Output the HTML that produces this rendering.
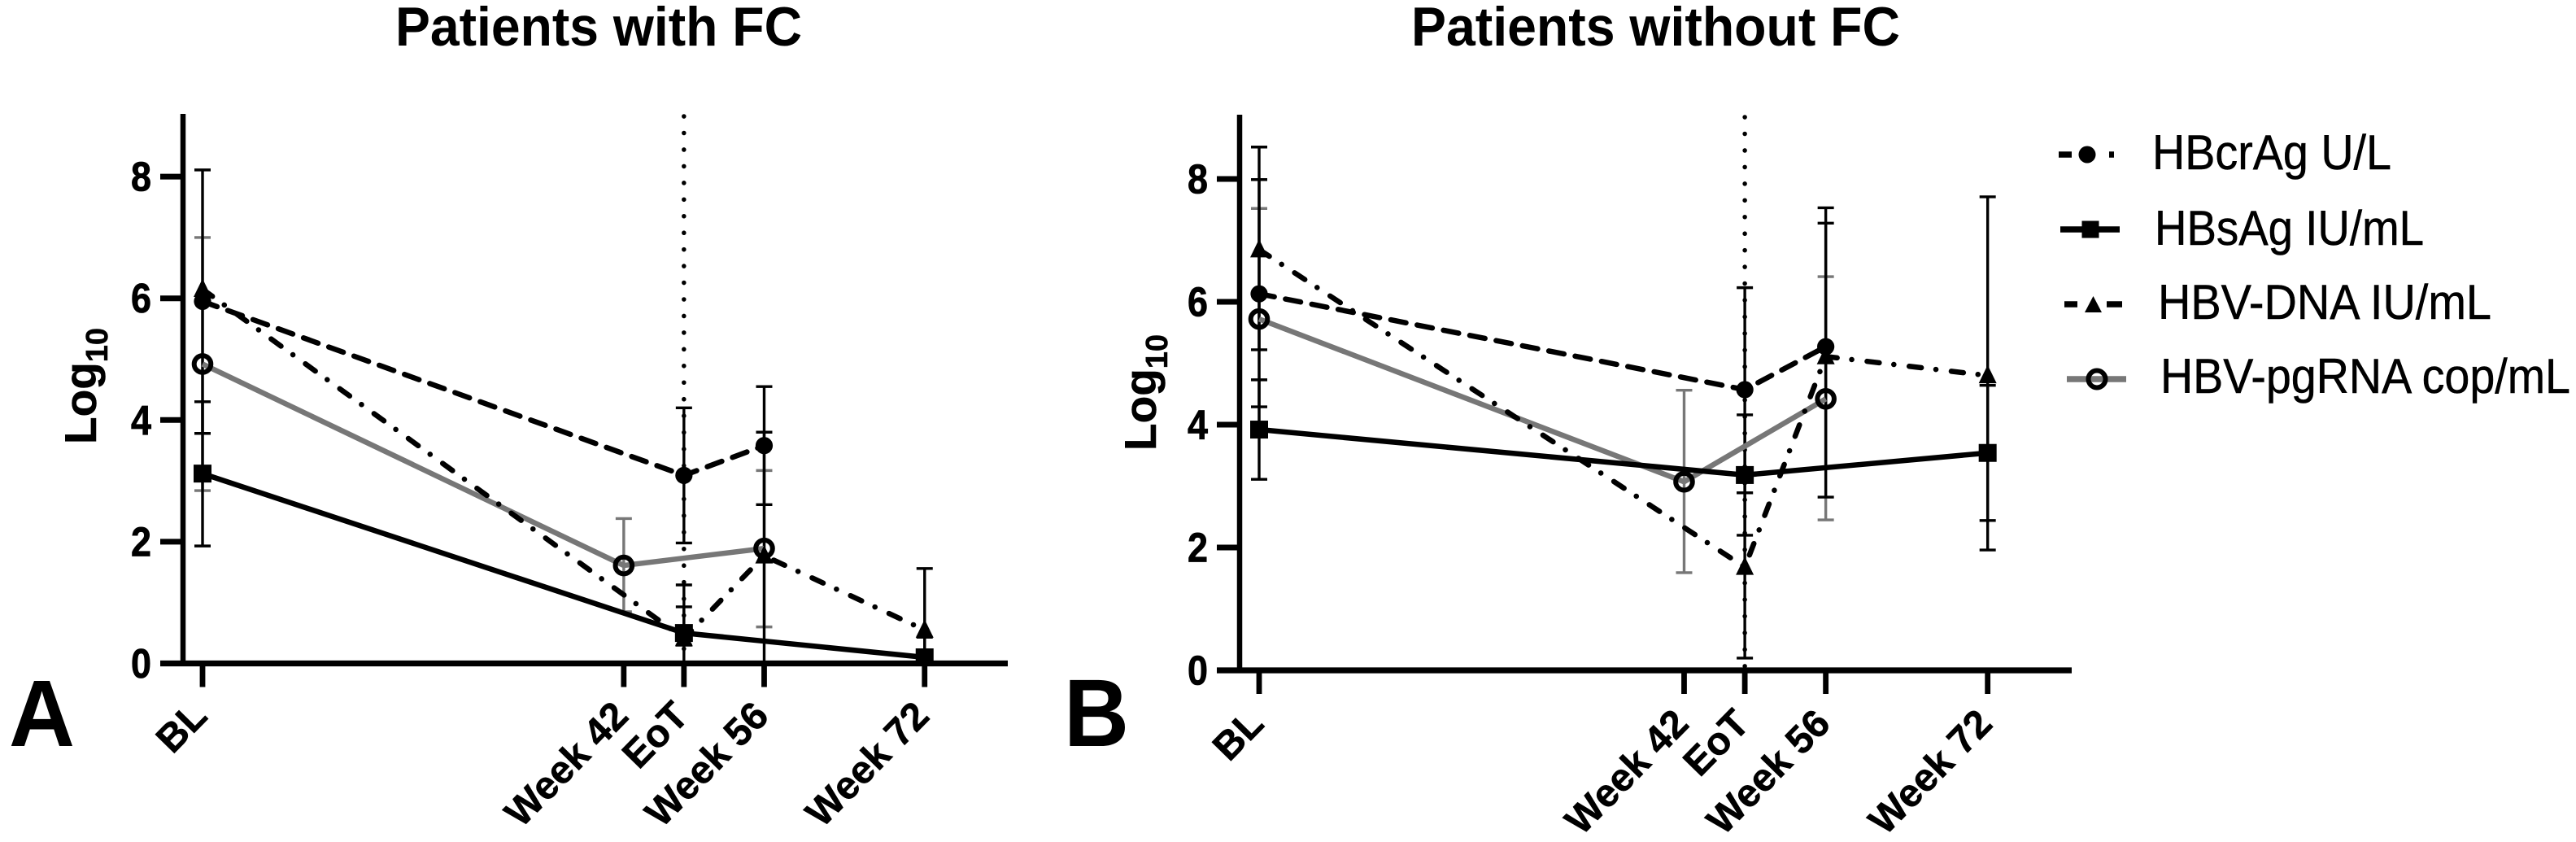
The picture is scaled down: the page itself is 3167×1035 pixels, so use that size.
<!DOCTYPE html>
<html>
<head>
<meta charset="utf-8">
<title>Patients with and without FC</title>
<style>
html,body{margin:0;padding:0;background:#fff;width:3167px;height:1035px;overflow:hidden}
svg{display:block}
text{font-family:"Liberation Sans",sans-serif;fill:#000}
.b{font-weight:bold}
.l{stroke:#000;stroke-width:0.5}
</style>
</head>
<body>
<svg id="figure" xmlns="http://www.w3.org/2000/svg" width="3167" height="1035" viewBox="0 0 3167 1035">
  <rect width="3167" height="1035" fill="#fff"/>
  <g id="panel-a"></g>
  <g id="panel-b"></g>

  <text class="b" x="486" y="56" font-size="68" textLength="500" lengthAdjust="spacingAndGlyphs">Patients with FC</text>
  <text class="b" x="1735" y="56" font-size="68" textLength="601" lengthAdjust="spacingAndGlyphs">Patients without FC</text>
  <text class="b" x="11" y="917" font-size="116" textLength="81" lengthAdjust="spacingAndGlyphs">A</text>
  <text class="b" x="1308" y="917" font-size="118" textLength="80" lengthAdjust="spacingAndGlyphs">B</text>

  <g transform="translate(118,546) rotate(-90)">
    <text class="b l" x="0" y="0" font-size="55">Log<tspan dy="14" font-size="38">10</tspan></text>
  </g>
  <g transform="translate(1421,554) rotate(-90)">
    <text class="b l" x="0" y="0" font-size="55">Log<tspan dy="14" font-size="38">10</tspan></text>
  </g>

  <g>
    <g>
      <line x1="2531" y1="190" x2="2604" y2="190" stroke="#000" stroke-width="7.5" stroke-dasharray="16 46 6 10"/>
      <circle cx="2566" cy="190" r="10.5" fill="#000"/>
      <text class="l" x="2646" y="208" font-size="60" textLength="294" lengthAdjust="spacingAndGlyphs">HBcrAg U/L</text>
    </g>
    <g>
      <line x1="2533" y1="282" x2="2606" y2="282" stroke="#000" stroke-width="7.5"/>
      <rect x="2559.5" y="271.5" width="21" height="21" fill="#000"/>
      <text class="l" x="2649" y="301" font-size="60" textLength="331" lengthAdjust="spacingAndGlyphs">HBsAg IU/mL</text>
    </g>
    <g>
      <line x1="2538" y1="374" x2="2609" y2="374" stroke="#000" stroke-width="7.5" stroke-dasharray="16 36 19 10"/>
      <polygon points="2573.5,364 2584,384 2563,384" fill="#000"/>
      <text class="l" x="2653" y="392" font-size="60" textLength="410" lengthAdjust="spacingAndGlyphs">HBV-DNA IU/mL</text>
    </g>
    <g>
      <line x1="2541" y1="466" x2="2614" y2="466" stroke="#777" stroke-width="7.5"/>
      <circle cx="2578" cy="466" r="10.5" fill="none" stroke="#000" stroke-width="6"/>
      <text class="l" x="2656" y="483" font-size="60" textLength="504" lengthAdjust="spacingAndGlyphs">HBV-pgRNA cop/mL</text>
    </g>
  </g>
</svg>

<script>
/* ---- shared categories and ticks ---- */
const weeks = [0, 42, 48, 56, 72];
const xLabels = ['BL', 'Week 42', 'EoT', 'Week 56', 'Week 72'];
const yTicks = [0, 2, 4, 6, 8];
const eotWeek = 48;

/* ---- Panel A: patients with FC ---- */
const hbcragA     = [5.95, null, 3.09, 3.58, null];
const hbcragAHigh = [8.11, null, 4.20, 4.55, null];
const hbcragALow  = [3.78, null, 1.98, 2.61, null];

const hbsagA      = [3.12, null, 0.50, null, 0.10];
const hbsagAHigh  = [4.30, null, 0.93, null, 0.43];
const hbsagALow   = [1.93, null, 0.30, null, 0.00];

const dnaA        = [6.15, null, 0.41, 1.77, 0.55];
const dnaAHigh    = [null, null, 1.29, 3.80, 1.56];
const dnaALow     = [null, null, 0.00, 0.00, 0.10];

const pgrnaA      = [4.92, 1.61, null, 1.89, null];
const pgrnaAHigh  = [7.00, 2.38, null, 3.17, null];
const pgrnaALow   = [2.84, 0.85, null, 0.60, null];

/* ---- Panel B: patients without FC ---- */
const hbcragB     = [6.13, null, 4.57, 5.27, null];
const hbcragBHigh = [7.99, null, 6.23, 7.28, null];
const hbcragBLow  = [4.29, null, 2.89, 3.30, null];

const hbsagB      = [3.92, null, 3.18, null, 3.54];
const hbsagBHigh  = [4.73, null, 4.16, null, 4.64];
const hbsagBLow   = [3.11, null, 2.20, null, 2.44];

const dnaB        = [6.85, null, 1.68, 5.11, 4.80];
const dnaBHigh    = [8.52, null, 2.89, 7.53, 7.71];
const dnaBLow     = [5.22, null, 0.20, 2.82, 1.96];

const pgrnaB      = [5.72, 3.07, null, 4.42, null];
const pgrnaBHigh  = [7.52, 4.56, null, 6.41, null];
const pgrnaBLow   = [3.90, 1.59, null, 2.45, null];

const NS = 'http://www.w3.org/2000/svg';

function make(parent, tag, attrs) {
  const el = document.createElementNS(NS, tag);
  for (const k in attrs) el.setAttribute(k, attrs[k]);
  parent.appendChild(el);
  return el;
}

function drawPanel(root, geo, series) {
  const x = w => geo.x0 + (w - weeks[0]) * geo.pxPerWeek;
  const y = v => geo.y0 - v * geo.pxPerUnit;

  /* EoT dotted reference line */
  const dotted = make(root, 'line', {
    x1: x(eotWeek), y1: geo.axisTop + 3, x2: x(eotWeek), y2: geo.y0 + 4,
    stroke: '#000', 'stroke-width': 5.5, 'stroke-linecap': 'round', 'stroke-dasharray': '0.1 20.35'
  });
  
  

  /* error bars, gray first so black sits on top */
  const ordered = series.slice().sort((a, b) => (a.color === '#000' ? 1 : 0) - (b.color === '#000' ? 1 : 0));
  ordered.forEach(s => {
    const g = make(root, 'g', {});
    
    
    weeks.forEach((w, i) => {
      const hi = s.high[i], lo = s.low[i];
      if (hi === null || lo === null) return;
      const px = x(w);
      const stem = make(g, 'line', { x1: px, x2: px, y1: y(hi), y2: y(lo), stroke: s.color, 'stroke-width': 3.4 });
      
      
      [hi, lo].forEach(v => {
        const cap = make(g, 'line', { x1: px - 10, x2: px + 10, y1: y(v), y2: y(v), stroke: s.color, 'stroke-width': 3.4 });
        
        
      });
    });
  });

  /* connecting lines */
  series.forEach(s => {
    const pts = [];
    weeks.forEach((w, i) => { if (s.values[i] !== null) pts.push(x(w) + ',' + y(s.values[i])); });
    const attrs = { points: pts.join(' '), fill: 'none', stroke: s.lineColor, 'stroke-width': 6.5, 'stroke-linejoin': 'round' };
    if (s.dash) { attrs['stroke-dasharray'] = s.dash; attrs['stroke-linecap'] = 'round'; }
    const line = make(root, 'polyline', attrs);
    
    
  });

  /* axes */
  const yAxis = make(root, 'line', { x1: geo.x0Axis, x2: geo.x0Axis, y1: geo.axisTop, y2: geo.y0 + 3, stroke: '#000', 'stroke-width': 6.5 });
  
  
  const xAxis = make(root, 'line', { x1: geo.x0Axis - 28, x2: geo.axisRight, y1: geo.y0, y2: geo.y0, stroke: '#000', 'stroke-width': 7.3 });
  
  

  yTicks.forEach(t => {
    if (t !== 0) {
      const tick = make(root, 'line', { x1: geo.x0Axis - 28, x2: geo.x0Axis, y1: y(t), y2: y(t), stroke: '#000', 'stroke-width': 7 });
      
      
    }
    const label = make(root, 'text', {
      x: geo.x0Axis - 39, y: y(t) + 17.5, 'text-anchor': 'end', 'font-size': 51, 'font-weight': 'bold',
      stroke: '#000', 'stroke-width': 0.8, textLength: 25, lengthAdjust: 'spacingAndGlyphs'
    });
    label.textContent = String(t);
    
    
  });

  weeks.forEach((w, i) => {
    const tick = make(root, 'line', { x1: x(w), x2: x(w), y1: geo.y0, y2: geo.y0 + 29, stroke: '#000', 'stroke-width': 6.8 });
    
    
    const lx = x(w) + 8, ly = geo.y0 + geo.labelDrop;
    const label = make(root, 'text', {
      x: 0, y: 0, 'text-anchor': 'end', 'font-size': 48, 'font-weight': 'bold',
      stroke: '#000', 'stroke-width': 0.6,
      transform: 'translate(' + lx + ',' + ly + ') rotate(-45.5)'
    });
    label.textContent = xLabels[i];
    
    
  });

  /* markers */
  series.forEach(s => {
    weeks.forEach((w, i) => {
      const v = s.values[i];
      if (v === null) return;
      const px = x(w), py = y(v);
      let m;
      if (s.marker === 'circle') m = make(root, 'circle', { cx: px, cy: py, r: 10.6, fill: '#000' });
      if (s.marker === 'square') m = make(root, 'rect', { x: px - 11, y: py - 11, width: 22, height: 22, fill: '#000' });
      if (s.marker === 'triangle') m = make(root, 'polygon', { points: px + ',' + (py - 13) + ' ' + (px + 11) + ',' + (py + 9.5) + ' ' + (px - 11) + ',' + (py + 9.5), fill: '#000' });
      if (s.marker === 'ring') m = make(root, 'circle', { cx: px, cy: py, r: 10.3, fill: 'none', stroke: '#000', 'stroke-width': 6 });
      
      
    });
  });
}

const dashed = '19 14';
const dashDot = '15 18 0.1 19';

drawPanel(document.getElementById('panel-a'),
  { x0: 249, pxPerWeek: 12.33, y0: 815.5, pxPerUnit: 74.8, axisTop: 140, x0Axis: 225, axisRight: 1239, labelDrop: 67 },
  [
    { key: 'hbv-pgrna', values: pgrnaA, high: pgrnaAHigh, low: pgrnaALow, color: '#777', lineColor: '#777', marker: 'ring' },
    { key: 'hbsag', values: hbsagA, high: hbsagAHigh, low: hbsagALow, color: '#000', lineColor: '#000', marker: 'square' },
    { key: 'hbv-dna', values: dnaA, high: dnaAHigh, low: dnaALow, color: '#000', lineColor: '#000', marker: 'triangle', dash: dashDot },
    { key: 'hbcrag', values: hbcragA, high: hbcragAHigh, low: hbcragALow, color: '#000', lineColor: '#000', marker: 'circle', dash: dashed }
  ]);

drawPanel(document.getElementById('panel-b'),
  { x0: 1548, pxPerWeek: 12.44, y0: 824, pxPerUnit: 75.5, axisTop: 141, x0Axis: 1524, axisRight: 2547, labelDrop: 68 },
  [
    { key: 'hbv-pgrna', values: pgrnaB, high: pgrnaBHigh, low: pgrnaBLow, color: '#777', lineColor: '#777', marker: 'ring' },
    { key: 'hbsag', values: hbsagB, high: hbsagBHigh, low: hbsagBLow, color: '#000', lineColor: '#000', marker: 'square' },
    { key: 'hbv-dna', values: dnaB, high: dnaBHigh, low: dnaBLow, color: '#000', lineColor: '#000', marker: 'triangle', dash: dashDot },
    { key: 'hbcrag', values: hbcragB, high: hbcragBHigh, low: hbcragBLow, color: '#000', lineColor: '#000', marker: 'circle', dash: dashed }
  ]);
</script>
</body>
</html>
